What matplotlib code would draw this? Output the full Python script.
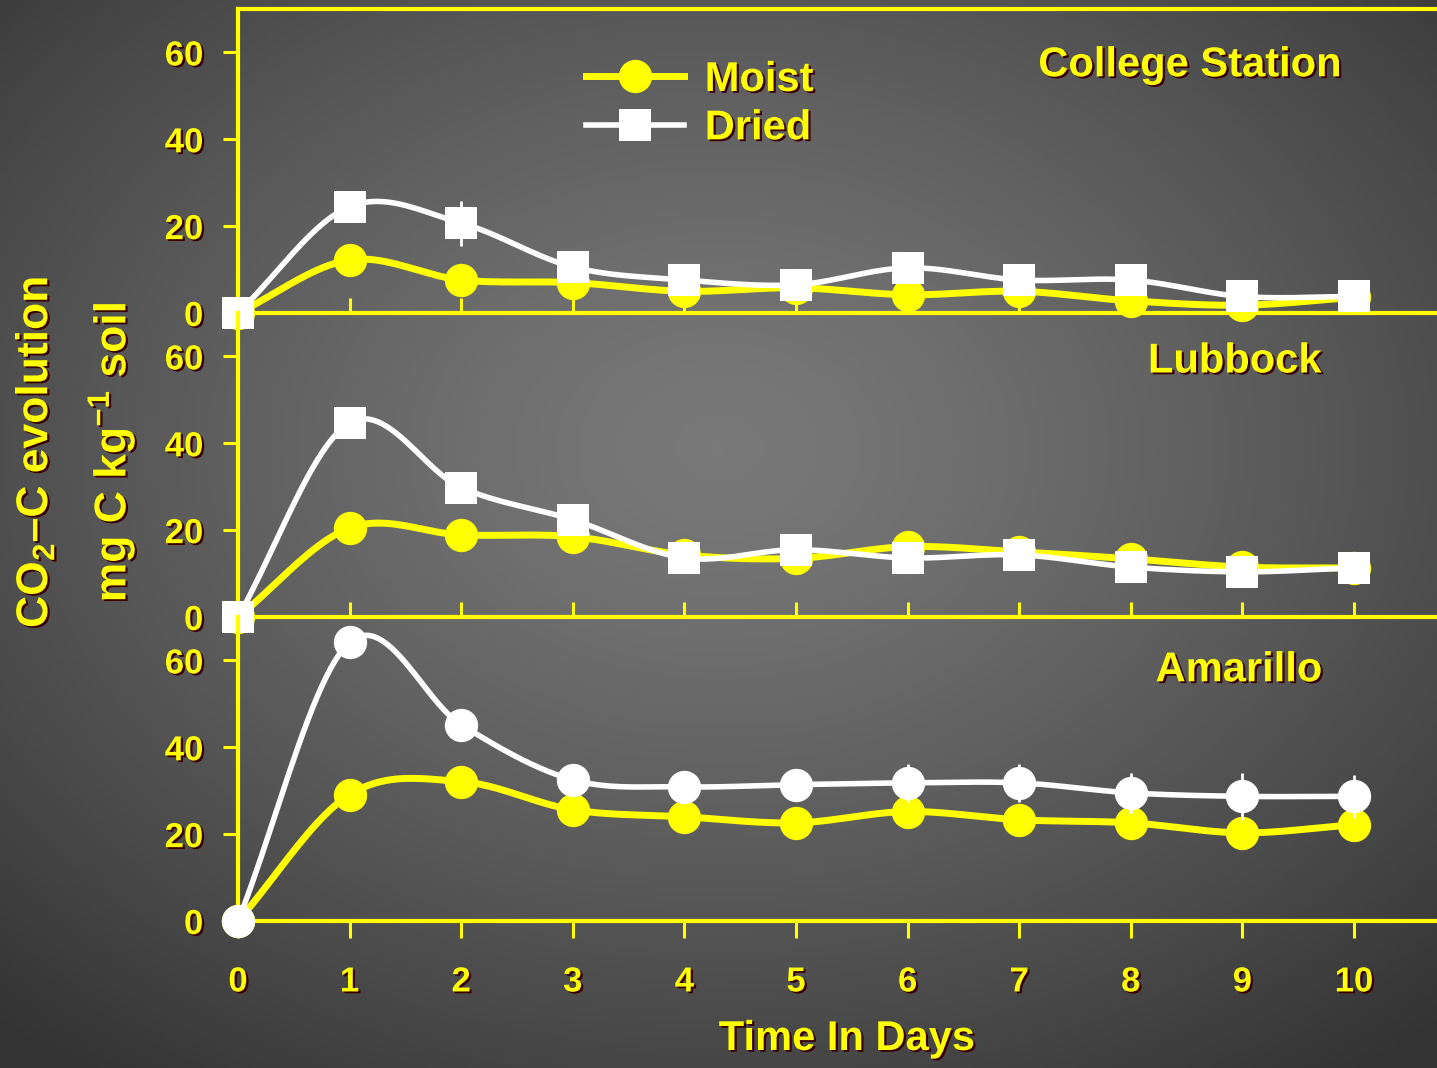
import numpy as np
import matplotlib
matplotlib.use('Agg')
import matplotlib.pyplot as plt
import matplotlib.patheffects as pe
from matplotlib.lines import Line2D

#Data
days = list(range(11))
sites = ['College Station', 'Lubbock', 'Amarillo']

cs_moist = [0, 12.2, 7.6, 7.0, 5.0, 5.8, 4.2, 5.0, 2.8, 1.8, 3.6]
cs_dried = [0, 24.5, 20.7, 10.6, 7.6, 6.5, 10.4, 7.6, 7.6, 3.8, 3.8]
cs_moist_err = [0, 0, 0, 0, 0, 0, 0, 0, 0, 0, 1.5]
cs_dried_err = [0, 0, 5.2, 0, 0, 0, 0, 0, 0, 0, 0]

lb_moist = [0, 20.5, 18.9, 18.5, 14.3, 13.5, 16.2, 15.0, 13.4, 11.5, 11.3]
lb_dried = [0, 44.7, 29.8, 22.4, 13.6, 15.5, 13.6, 14.3, 11.5, 10.4, 11.3]
lb_moist_err = [0] * 11
lb_dried_err = [0] * 11

am_moist = [0, 29.1, 32.1, 25.6, 24.0, 22.6, 25.2, 23.3, 22.6, 20.3, 22.2]
am_dried = [0, 64.2, 45.2, 32.5, 30.9, 31.4, 31.8, 31.8, 29.5, 28.7, 28.7]
am_moist_err = [0, 0, 0, 0, 0, 0, 0, 0, 2.0, 2.0, 2.0]
am_dried_err = [0, 0, 0, 0, 0, 0, 4.4, 4.4, 4.6, 5.4, 4.9]

panels = [
    (cs_moist, cs_moist_err, cs_dried, cs_dried_err, 's'),
    (lb_moist, lb_moist_err, lb_dried, lb_dried_err, 's'),
    (am_moist, am_moist_err, am_dried, am_dried_err, 'o'),
]
#where the site names sit (data coords, baseline)
title_pos = [(8.53, 54.5), (8.93, 56.3), (8.97, 55.2)]

YELLOW = '#ffff00'
SHADOW = [pe.SimplePatchShadow(offset=(1.6, -1.3), shadow_rgbFace='#3a0000', alpha=1.0), pe.Normal()]

plt.rcParams['font.family'] = ['Liberation Sans', 'DejaVu Sans']
plt.rcParams['font.weight'] = 'bold'
plt.rcParams['mathtext.fontset'] = 'custom'
plt.rcParams['mathtext.rm'] = 'Liberation Sans:bold'
plt.rcParams['mathtext.default'] = 'rm'


def smooth(x, y, n=24):
    #Catmull-Rom curve through the points, only used for drawing the line
    x = np.asarray(x, float)
    y = np.asarray(y, float)
    xp = np.concatenate([[2 * x[0] - x[1]], x, [2 * x[-1] - x[-2]]])
    yp = np.concatenate([[2 * y[0] - y[1]], y, [2 * y[-1] - y[-2]]])
    t = np.linspace(0, 1, n, endpoint=False)
    xs, ys = [], []
    for i in range(1, len(xp) - 2):
        p0, p1, p2, p3 = yp[i - 1:i + 3]
        ys.append(0.5 * (2 * p1 + (-p0 + p2) * t + (2 * p0 - 5 * p1 + 4 * p2 - p3) * t ** 2
                         + (-p0 + 3 * p1 - 3 * p2 + p3) * t ** 3))
        xs.append(xp[i] + (xp[i + 1] - xp[i]) * t)
    xs.append([x[-1]])
    ys.append([y[-1]])
    return np.concatenate(xs), np.concatenate(ys)


W, H = 1437, 1068
fig = plt.figure(figsize=(W / 100, H / 100), dpi=100)

#radial gray background
bg = fig.add_axes([0, 0, 1, 1], zorder=-10)
gx, gy = np.meshgrid(np.linspace(0, 1, 400), np.linspace(0, 1, 300))
r = np.sqrt(((gx - 0.5) / 0.75) ** 2 + ((gy - 0.42) / 0.75) ** 2)
shade = np.clip(0.475 - 0.28 * r ** 1.3, 0.2, 1)
bg.imshow(np.dstack([shade] * 3), aspect='auto', extent=[0, 1, 1, 0])
bg.axis('off')

left = 238 / W
xmax = (W - 238) / 111.6
bottoms_px = [313, 617, 921]
axes = []
for k, (moist, moist_err, dried, dried_err, dmark) in enumerate(panels):
    b = bottoms_px[k]
    ax = fig.add_axes([left, 1 - b / H, 1 - left, 304 / H])
    ax.set_facecolor('none')
    ax.set_xlim(0, xmax)
    ax.set_ylim(0, 70)

    sx, sy = smooth(days, moist)
    ax.plot(sx, sy, color=YELLOW, lw=5, zorder=3, clip_on=False, solid_capstyle='round')
    ax.errorbar(days, moist, yerr=moist_err, fmt='o', color=YELLOW, ms=24, mew=0,
                ecolor=YELLOW, elinewidth=2, capsize=6, capthick=2, zorder=4, clip_on=False)

    sx, sy = smooth(days, dried)
    ax.plot(sx, sy, color='white', lw=4, zorder=5, clip_on=False, solid_capstyle='round')
    ax.errorbar(days, dried, yerr=dried_err, fmt=dmark, color='white',
                ms=22.5 if dmark == 's' else 24, mew=0,
                ecolor='white', elinewidth=2, capsize=6, capthick=2, zorder=6, clip_on=False)

    for side in ['left', 'bottom', 'top']:
        ax.spines[side].set_color(YELLOW)
        ax.spines[side].set_linewidth(3)
    ax.spines['right'].set_visible(False)
    if k > 0:
        ax.spines['top'].set_visible(False)

    ax.set_yticks([0, 20, 40, 60])
    ax.tick_params(axis='y', colors=YELLOW, length=11, width=2.2, direction='out',
                   labelsize=25, pad=14)
    ax.set_xticks(days)
    if k < 2:
        ax.tick_params(axis='x', colors=YELLOW, length=11, width=2.2, direction='in',
                       labelbottom=False)
    else:
        ax.tick_params(axis='x', colors=YELLOW, length=12, width=2.2, direction='out',
                       labelsize=25, pad=20)
    for lab in ax.get_yticklabels() + ax.get_xticklabels():
        lab.set_path_effects(SHADOW)
        lab.set_fontweight('bold')

    tx, ty = title_pos[k]
    ax.text(tx, ty, sites[k], ha='center', va='baseline', color=YELLOW, fontsize=30,
            fontweight='bold', path_effects=SHADOW)
    axes.append(ax)

handles = [
    Line2D([], [], color=YELLOW, lw=5, marker='o', ms=24, mew=0),
    Line2D([], [], color='white', lw=4, marker='s', ms=22.5, mew=0),
]
leg = axes[0].legend(handles, ['Moist', 'Dried'], loc='upper left',
                     bbox_to_anchor=(586 / W, 1 - 60 / H), bbox_transform=fig.transFigure,
                     frameon=False, fontsize=30, handlelength=2.35, handletextpad=0.5,
                     labelspacing=0.2, borderpad=0, borderaxespad=0)
for txt in leg.get_texts():
    txt.set_color(YELLOW)
    txt.set_fontweight('bold')
    txt.set_path_effects(SHADOW)

fig.text(847 / W, 1 - 1050 / H, 'Time In Days', ha='center', va='baseline', color=YELLOW,
         fontsize=30, fontweight='bold', path_effects=SHADOW)
fig.text(35 / W, 1 - 452 / H, 'CO$_2$\u2013C evolution', rotation=90, ha='center', va='center',
         color=YELLOW, fontsize=32, fontweight='bold', path_effects=SHADOW)
fig.text(111 / W, 1 - 452 / H, 'mg C kg$^{-1}$ soil', rotation=90, ha='center', va='center',
         color=YELLOW, fontsize=32, fontweight='bold', path_effects=SHADOW)

fig.savefig('out.png', dpi=100)
